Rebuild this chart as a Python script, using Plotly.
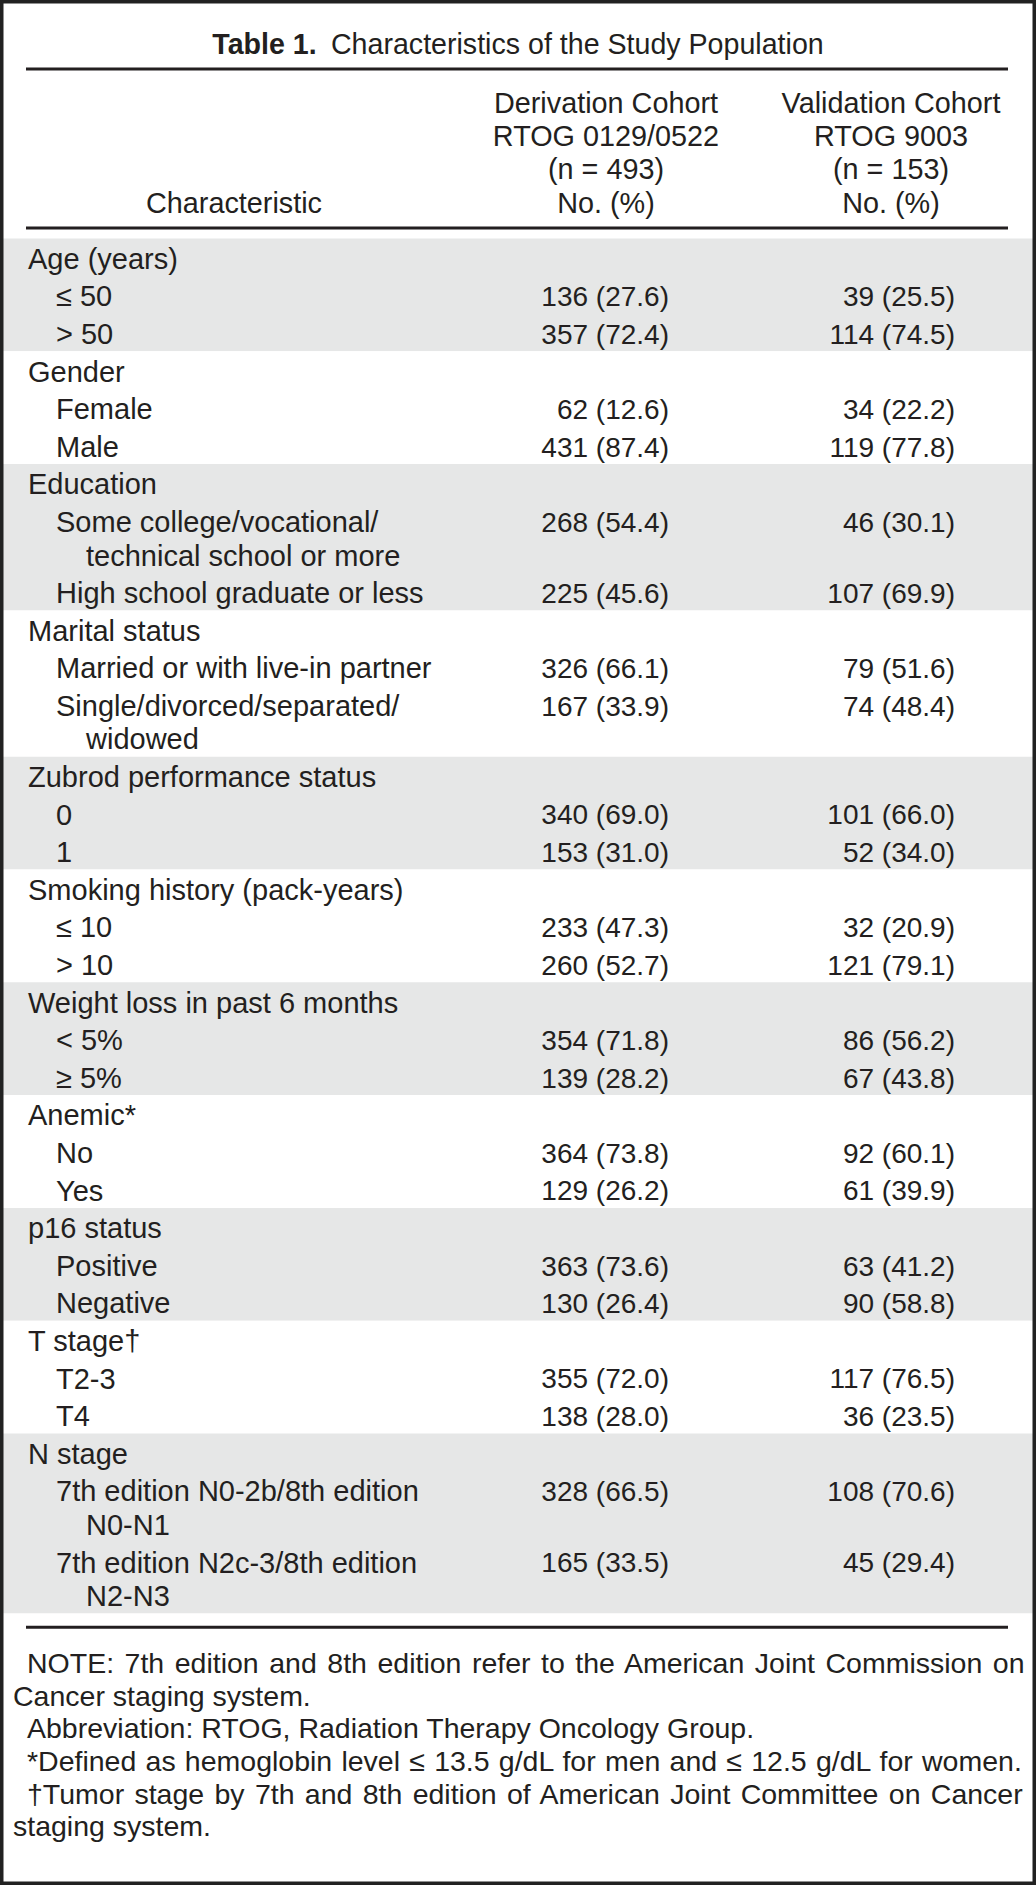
import plotly.graph_objects as go

# ---------------- data ----------------
title_bold = "Table 1."
title_rest = "Characteristics of the Study Population"

header_char = "Characteristic"
header_deriv = ["Derivation Cohort", "RTOG 0129/0522", "(n = 493)", "No. (%)"]
header_valid = ["Validation Cohort", "RTOG 9003", "(n = 153)", "No. (%)"]

group_labels = ["Age (years)", "Gender", "Education", "Marital status",
                "Zubrod performance status", "Smoking history (pack-years)",
                "Weight loss in past 6 months", "Anemic*", "p16 status",
                "T stage\u2020", "N stage"]
items_per_group = [2, 2, 2, 2, 2, 2, 2, 2, 2, 2, 2]
item_labels = [
    ["\u2264 50"], ["> 50"],
    ["Female"], ["Male"],
    ["Some college/vocational/", "technical school or more"], ["High school graduate or less"],
    ["Married or with live-in partner"], ["Single/divorced/separated/", "widowed"],
    ["0"], ["1"],
    ["\u2264 10"], ["> 10"],
    ["< 5%"], ["\u2265 5%"],
    ["No"], ["Yes"],
    ["Positive"], ["Negative"],
    ["T2-3"], ["T4"],
    ["7th edition N0-2b/8th edition", "N0-N1"], ["7th edition N2c-3/8th edition", "N2-N3"],
]
deriv_counts = [136, 357, 62, 431, 268, 225, 326, 167, 340, 153, 233, 260,
                354, 139, 364, 129, 363, 130, 355, 138, 328, 165]
deriv_pcts = [27.6, 72.4, 12.6, 87.4, 54.4, 45.6, 66.1, 33.9, 69.0, 31.0, 47.3, 52.7,
              71.8, 28.2, 73.8, 26.2, 73.6, 26.4, 72.0, 28.0, 66.5, 33.5]
valid_counts = [39, 114, 34, 119, 46, 107, 79, 74, 101, 52, 32, 121,
                86, 67, 92, 61, 63, 90, 117, 36, 108, 45]
valid_pcts = [25.5, 74.5, 22.2, 77.8, 30.1, 69.9, 51.6, 48.4, 66.0, 34.0, 20.9, 79.1,
              56.2, 43.8, 60.1, 39.9, 41.2, 58.8, 76.5, 23.5, 70.6, 29.4]

footnote_lines = [
    "NOTE: 7th edition and 8th edition refer to the American Joint Commission on",
    "Cancer staging system.",
    "Abbreviation: RTOG, Radiation Therapy Oncology Group.",
    "*Defined as hemoglobin level \u2264 13.5 g/dL for men and \u2264 12.5 g/dL for women.",
    "\u2020Tumor stage by 7th and 8th edition of American Joint Committee on Cancer",
    "staging system.",
]
footnote_indent = [True, False, True, True, True, False]
footnote_justify_px = [2.6, 0, 0, 1.3, 2.4, 0]   # extra word spacing (justified lines)

# ---------------- layout constants ----------------
W, H = 1036, 1885
FONT = "Liberation Sans, Arial, Helvetica, sans-serif"
FS_LABEL, FS_VALUE, FS_HDR, FS_TITLE, FS_FOOT = 29, 28, 28.8, 28.6, 28.5
TXT = "#231f20"
GRAY = "#e6e7e7"
ROW = 37.6
CONT = 33.5
BAND_START = 238.5
TDY = 4.3
X_GROUP, X_ITEM, X_CONT = 28, 56, 86
X_DERIV, X_VALID = 669, 955
X_HDR_CHAR, X_HDR_DERIV, X_HDR_VALID = 234, 606, 891
HDR_Y0, HDR_DY = 105.5, 33.3
TITLE_Y = 47
RULE_X0, RULE_X1 = 26, 1008
RULE_TOP, RULE_HDR = 69, 228
FOOT_Y0, FOOT_DY = 1666, 32.6

# ---------------- build rows ----------------
gx, gy, gt = [], [], []
ix, iy, it = [], [], []
dy_, dt, vy, vt = [], [], [], []
bands = []
y = BAND_START
k = 0
for gi, (glab, n) in enumerate(zip(group_labels, items_per_group)):
    top = y
    gx.append(X_GROUP); gy.append(y + ROW / 2 + TDY); gt.append(glab)
    y += ROW
    for _ in range(n):
        lines = item_labels[k]
        c = y + ROW / 2 + TDY
        for li, line in enumerate(lines):
            ix.append(X_ITEM if li == 0 else X_CONT)
            iy.append(c + li * CONT)
            it.append(line)
        dy_.append(c); dt.append(f"{deriv_counts[k]} ({deriv_pcts[k]:.1f})")
        vy.append(c); vt.append(f"{valid_counts[k]} ({valid_pcts[k]:.1f})")
        y += ROW + (len(lines) - 1) * CONT
        k += 1
    bands.append((top, y, GRAY if gi % 2 == 0 else "white"))
BAND_END = y
RULE_BOTTOM = BAND_END + 14

fig = go.Figure()

def text_trace(xs, ys, texts, pos, size):
    fig.add_trace(go.Scatter(
        x=xs, y=ys, text=texts, mode="text", textposition=pos,
        textfont=dict(family=FONT, size=size, color=TXT),
        hoverinfo="skip", showlegend=False, cliponaxis=False))

# bands
shapes = []
for (t, b, col) in bands:
    shapes.append(dict(type="rect", xref="x", yref="y", x0=3, x1=W - 3, y0=t, y1=b,
                       fillcolor=col, line=dict(width=0), layer="below"))
# rules
for ry in [RULE_TOP, RULE_HDR, RULE_BOTTOM]:
    shapes.append(dict(type="line", xref="x", yref="y", x0=RULE_X0, x1=RULE_X1, y0=ry, y1=ry,
                       line=dict(color=TXT, width=3)))
# frame
shapes.append(dict(type="rect", xref="paper", yref="paper", x0=0, x1=1, y0=0, y1=1,
                   line=dict(color="#222222", width=7), fillcolor="rgba(0,0,0,0)"))

# title
text_trace([W / 2], [TITLE_Y], [f"<b>{title_bold}</b>\u2002{title_rest}"], "middle center", FS_TITLE)
# header
hy = [HDR_Y0 + i * HDR_DY for i in range(4)]
text_trace([X_HDR_DERIV] * 4, hy, header_deriv, "middle center", FS_HDR)
text_trace([X_HDR_VALID] * 4, hy, header_valid, "middle center", FS_HDR)
text_trace([X_HDR_CHAR], [hy[-1]], [header_char], "middle center", FS_HDR)
# body
text_trace(gx, gy, gt, "middle right", FS_LABEL)
text_trace(ix, iy, it, "middle right", FS_LABEL)
text_trace([X_DERIV] * len(dt), dy_, dt, "middle left", FS_VALUE)
text_trace([X_VALID] * len(vt), vy, vt, "middle left", FS_VALUE)
# footnotes
fx = [27 if ind else 13 for ind in footnote_indent]
fy = [FOOT_Y0 + i * FOOT_DY for i in range(len(footnote_lines))]
ftxt = [f'<span style="word-spacing:{ws}px">{t}</span>' if ws else t
        for t, ws in zip(footnote_lines, footnote_justify_px)]
text_trace(fx, fy, ftxt, "middle right", FS_FOOT)

fig.update_layout(
    width=W, height=H, margin=dict(l=0, r=0, t=0, b=0),
    paper_bgcolor="white", plot_bgcolor="white",
    xaxis=dict(range=[0, W], visible=False, fixedrange=True),
    yaxis=dict(range=[H, 0], visible=False, fixedrange=True),
    shapes=shapes, showlegend=False,
)
fig.write_html("out.html", config={"displayModeBar": False},
               post_script="document.body.style.margin='0';document.body.style.overflow='hidden';")
